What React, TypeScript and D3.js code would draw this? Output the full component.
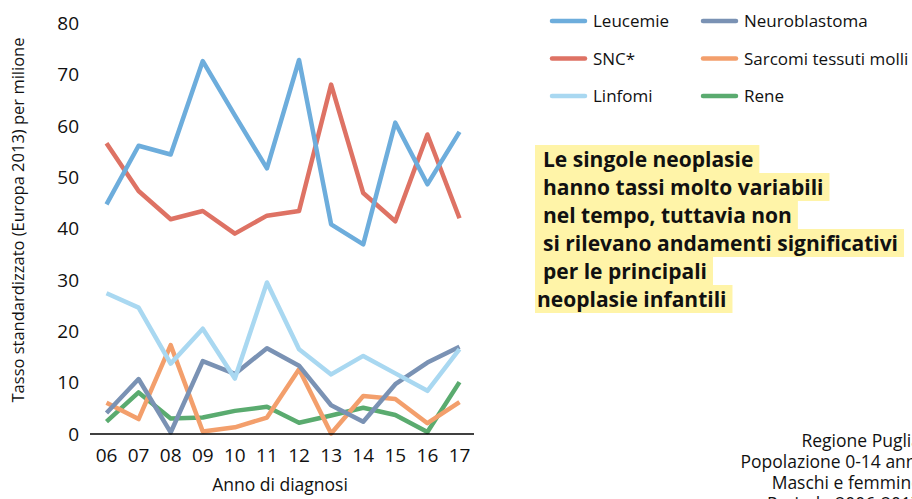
import React, { useEffect, useRef } from "react";
import * as d3 from "d3";

const years = ["06", "07", "08", "09", "10", "11", "12", "13", "14", "15", "16", "17"];
const leucemie = [44.7, 56.1, 54.4, 72.6, 62, 51.7, 72.8, 40.8, 36.9, 60.6, 48.6, 58.8];
const snc = [56.6, 47.3, 41.8, 43.4, 39.0, 42.5, 43.4, 68.0, 46.9, 41.4, 58.3, 42.0];
const linfomi = [27.4, 24.6, 13.7, 20.5, 10.8, 29.5, 16.5, 11.6, 15.2, 11.8, 8.4, 16.5];
const neuroblastoma = [4.1, 10.7, 0.3, 14.2, 11.7, 16.7, 13.3, 5.6, 2.4, 9.7, 13.9, 17.0];
const sarcomi = [6.1, 2.9, 17.3, 0.5, 1.3, 3.2, 12.6, 0.1, 7.4, 6.8, 2.1, 6.2];
const rene = [2.4, 8.1, 3.0, 3.2, 4.5, 5.3, 2.2, 3.6, 5.1, 3.7, 0.4, 10.1];
const yTicks = [0, 10, 20, 30, 40, 50, 60, 70, 80];

const seriesNames = ["Leucemie", "SNC*", "Linfomi", "Neuroblastoma", "Sarcomi tessuti molli", "Rene"];
const seriesValues = [leucemie, snc, linfomi, neuroblastoma, sarcomi, rene];
const seriesColors = ["#6daddc", "#de7264", "#a9d8f1", "#7a92b4", "#f39f6c", "#5aab6f"];
const drawOrder = [5, 4, 3, 2, 1, 0];

const noteLines = [
  "Le singole neoplasie",
  "hanno tassi molto variabili",
  "nel tempo, tuttavia non",
  "si rilevano andamenti significativi",
  "per le principali",
  "neoplasie infantili",
];
const infoLines = ["Regione Puglia", "Popolazione 0-14 anni", "Maschi e femmine", "Periodo 2006-2017"];

const FONT = "'Open Sans', sans-serif";

export default function App() {
  const ref = useRef<SVGSVGElement | null>(null);

  useEffect(() => {
    const svg = d3.select(ref.current);
    svg.selectAll("*").remove();

    const x = d3.scalePoint<string>().domain(years).range([106.5, 459.5]);
    const y = d3.scaleLinear().domain([0, 80]).range([434, 23]);

    svg
      .append("g")
      .selectAll("text")
      .data(yTicks)
      .join("text")
      .attr("x", 79)
      .attr("y", (d) => y(d))
      .attr("dy", "0.36em")
      .attr("text-anchor", "end")
      .attr("font-family", FONT)
      .attr("font-size", 19)
      .attr("fill", "#111")
      .text((d) => String(d));

    svg
      .append("g")
      .selectAll("text")
      .data(years)
      .join("text")
      .attr("x", (d) => x(d)!)
      .attr("y", 462)
      .attr("text-anchor", "middle")
      .attr("font-family", FONT)
      .attr("font-size", 19)
      .attr("fill", "#111")
      .text((d) => d);

    const line = d3
      .line<number>()
      .x((_, i) => x(years[i])!)
      .y((d) => y(d));

    const lines = svg.append("g");
    drawOrder.forEach((si) => {
      lines
        .append("path")
        .attr("d", line(seriesValues[si]))
        .attr("fill", "none")
        .attr("stroke", seriesColors[si])
        .attr("stroke-width", 4.5)
        .attr("stroke-linejoin", "round");
    });

    svg
      .append("line")
      .attr("x1", 90)
      .attr("x2", 474)
      .attr("y1", y(0))
      .attr("y2", y(0))
      .attr("stroke", "#000")
      .attr("stroke-width", 1.5);

    svg
      .append("text")
      .attr("transform", `translate(24,220) rotate(-90)`)
      .attr("text-anchor", "middle")
      .attr("font-family", FONT)
      .attr("font-size", 16.5)
      .attr("fill", "#111")
      .text("Tasso standardizzato (Europa 2013) per milione");

    svg
      .append("text")
      .attr("x", 280)
      .attr("y", 491)
      .attr("text-anchor", "middle")
      .attr("font-family", FONT)
      .attr("font-size", 17.5)
      .attr("fill", "#111")
      .text("Anno di diagnosi");

    const legend = svg.append("g");
    seriesNames.forEach((name, i) => {
      const col = Math.floor(i / 3);
      const row = i % 3;
      const lx = col === 0 ? 552 : 703;
      const ly = 21 + row * 37.5;
      legend
        .append("line")
        .attr("x1", lx)
        .attr("x2", lx + 33)
        .attr("y1", ly)
        .attr("y2", ly)
        .attr("stroke", seriesColors[i])
        .attr("stroke-width", 4.5)
        .attr("stroke-linecap", "round");
      legend
        .append("text")
        .attr("x", lx + 41)
        .attr("y", ly)
        .attr("dy", "0.36em")
        .attr("font-family", FONT)
        .attr("font-size", 17)
        .attr("fill", "#111")
        .text(name);
    });

    const note = svg.append("g");
    noteLines.forEach((t, i) => {
      const top = 145 + i * 28;
      const tx = i === 5 ? 537 : 543;
      const rect = note.append("rect").attr("fill", "#fff4a8");
      const txt = note
        .append("text")
        .attr("x", tx)
        .attr("y", top + 22)
        .attr("font-family", FONT)
        .attr("font-weight", "bold")
        .attr("font-size", 21)
        .attr("fill", "#111")
        .text(t);
      const w = (txt.node() as SVGTextElement).getComputedTextLength();
      rect
        .attr("x", 535)
        .attr("y", top)
        .attr("width", tx - 535 + w + 6)
        .attr("height", 28);
    });

    svg
      .append("g")
      .selectAll("text")
      .data(infoLines)
      .join("text")
      .attr("x", 921)
      .attr("y", (_, i) => 447 + i * 21)
      .attr("text-anchor", "end")
      .attr("font-family", FONT)
      .attr("font-size", 17.5)
      .attr("fill", "#111")
      .text((d) => d);
  }, []);

  return (
    <svg
      ref={ref}
      width={912}
      height={499}
      style={{ position: "fixed", left: 0, top: 0, background: "#fff" }}
    />
  );
}
